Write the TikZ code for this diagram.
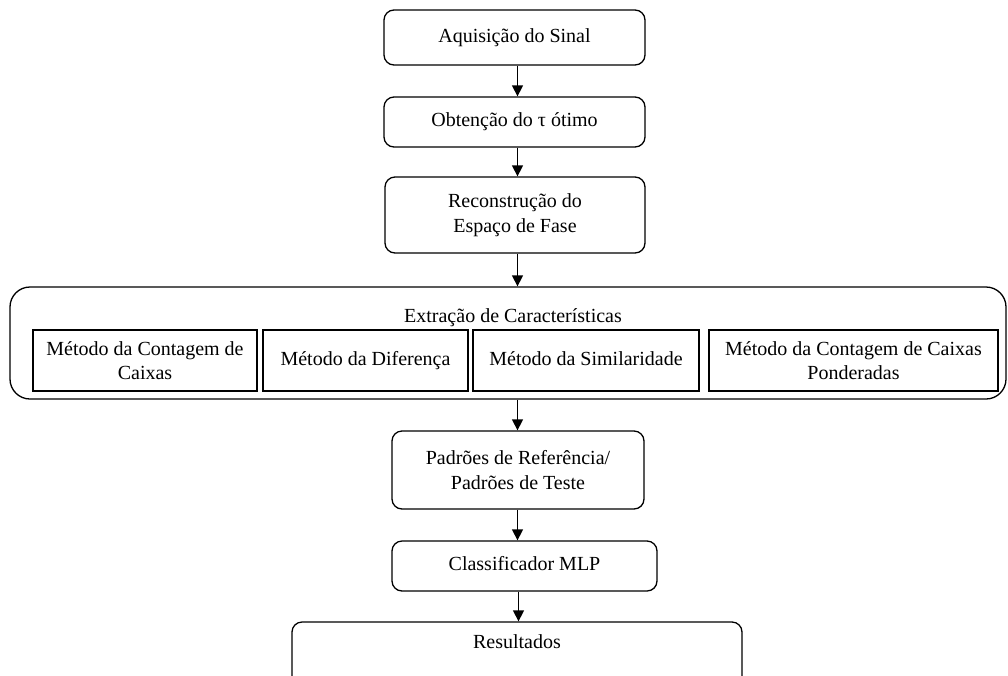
\documentclass[tikz,border=0pt]{standalone}
\usepackage{fontspec}
\setmainfont{Liberation Serif}
\usetikzlibrary{arrows.meta}
\begin{document}
\begin{tikzpicture}[x=1pt,y=-1pt,
  every node/.style={font=\fontsize{20}{24.5}\selectfont, align=center, inner sep=0pt},
  one/.style={text height=13.5pt, text depth=4.5pt},
  rbox/.style={draw, line width=1.3pt, rounded corners=10pt},
  sbox/.style={draw, line width=1.1pt},
  arr/.style={line width=1.3pt, -{Triangle[length=11pt,width=11pt]}}]
\useasboundingbox (0,0) rectangle (1008,675);
\clip (0,0) rectangle (1008,675);
\coordinate (ax) at (517.5,0);
\node[rbox, one, minimum width=261, minimum height=55] (b1) at (514.5,37.5) {Aquisição do Sinal};
\node[rbox, one, minimum width=261, minimum height=50] (b2) at (514.5,122) {Obtenção do τ ótimo};
\node[rbox, minimum width=260, minimum height=76] (b3) at (515,215) {Reconstrução do\\Espaço de Fase};
\node[rbox, rounded corners=20pt, minimum width=996, minimum height=112] (ext) at (508,343) {};
\node[one] (extt) at (513,318) {Extração de Características};
\node[sbox, minimum width=224, minimum height=61] (m1) at (145,360.5) {Método da Contagem de\\Caixas};
\node[sbox, one, minimum width=205, minimum height=61] (m2) at (365.5,360.5) {Método da Diferença};
\node[sbox, one, minimum width=226, minimum height=61] (m3) at (586,360.5) {Método da Similaridade};
\node[sbox, minimum width=289, minimum height=61] (m4) at (853.5,360.5) {Método da Contagem de Caixas\\Ponderadas};
\node[rbox, minimum width=252, minimum height=78] (b4) at (518,470) {Padrões de Referência/\\Padrões de Teste};
\node[rbox, one, minimum width=265, minimum height=50] (b5) at (524.5,566) {Classificador MLP};
\node[rbox, minimum width=450, minimum height=80] (b6) at (517,662) {};
\node[one] (b6t) at (517,644) {Resultados};
\draw[arr] (b1.south -| ax) -- (b2.north -| ax);
\draw[arr] (b2.south -| ax) -- (b3.north -| ax);
\draw[arr] (b3.south -| ax) -- (ext.north -| ax);
\draw[arr] (ext.south -| ax) -- (b4.north -| ax);
\draw[arr] (b4.south -| ax) -- (b5.north -| ax);
\draw[arr] ([xshift=1pt]b5.south -| ax) -- ([xshift=1pt]b6.north -| ax);
\end{tikzpicture}
\end{document}
